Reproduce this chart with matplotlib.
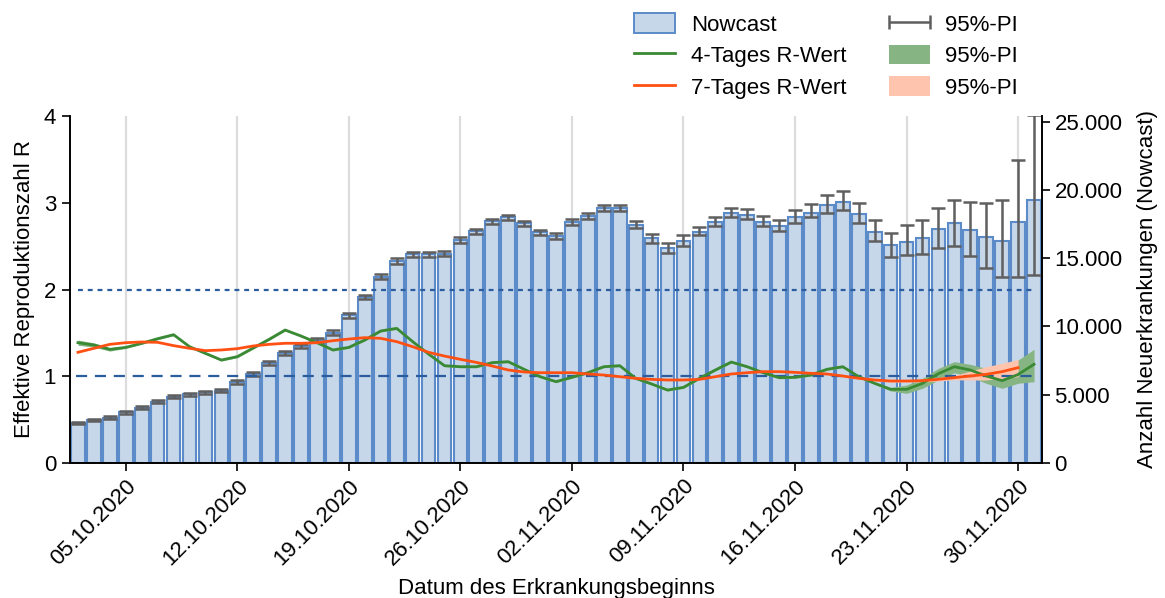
import numpy as np
import pandas as pd
import matplotlib
matplotlib.use("Agg")
import matplotlib.pyplot as plt
from matplotlib.patches import Patch
from matplotlib.lines import Line2D
from matplotlib.ticker import FuncFormatter
from matplotlib.legend_handler import HandlerErrorbar

plt.rcParams['font.family'] = ['Liberation Sans', 'DejaVu Sans']

# ---------------- data ----------------
start_date = "2020-10-02"
n_days = 61
dates = pd.date_range(start_date, periods=n_days, freq="D")

nowcast = [2950, 3150, 3320, 3710, 4050, 4470, 4860, 5050, 5180, 5300,
           5930, 6520, 7300, 8090, 8600, 9010, 9550, 10820, 12160, 13650,
           14800, 15290, 15290, 15340, 16340, 16970, 17700, 17990, 17560, 16900,
           16630, 17630, 18090, 18680, 18660, 17460, 16460, 15730, 16290, 16900,
           17630, 18290, 18190, 17660, 17340, 18050, 18340, 18930, 19150, 18220,
           16950, 15950, 16220, 16510, 17170, 17560, 17050, 16560, 16240, 17680,
           19300]

nowcast_upper = [3040, 3240, 3410, 3810, 4150, 4580, 4970, 5160, 5290, 5410,
                 6050, 6650, 7440, 8240, 8750, 9170, 9710, 10990, 12340, 13840,
                 14990, 15480, 15480, 15530, 16540, 17170, 17900, 18200, 17760, 17100,
                 16830, 17840, 18300, 18900, 18880, 17710, 16790, 16110, 16680, 17270,
                 18020, 18680, 18600, 18090, 17800, 18550, 18970, 19600, 19920, 19040,
                 17800, 16850, 17410, 17830, 18700, 19290, 19120, 19020, 19270, 22200,
                 25500]

nowcast_lower = [2860, 3060, 3230, 3610, 3950, 4360, 4750, 4940, 5070, 5190,
                 5810, 6390, 7160, 7940, 8450, 8850, 9390, 10650, 11980, 13460,
                 14610, 15100, 15100, 15150, 16140, 16770, 17500, 17780, 17360, 16700,
                 16430, 17420, 17880, 18460, 18440, 17210, 16130, 15350, 15900, 16680,
                 17360, 17990, 17850, 17340, 16970, 17560, 18040, 18310, 18500, 17560,
                 16240, 15120, 15240, 15320, 15730, 15920, 15170, 14320, 13660, 13660,
                 13740]

r4 = [1.387, 1.360, 1.310, 1.333, 1.380, 1.433, 1.479, 1.341, 1.264, 1.187,
      1.226, 1.326, 1.426, 1.533, 1.464, 1.387, 1.303, 1.333, 1.418, 1.522,
      1.552, 1.400, 1.256, 1.122, 1.110, 1.110, 1.157, 1.168, 1.080, 0.995,
      0.938, 0.988, 1.041, 1.110, 1.122, 0.976, 0.911, 0.841, 0.872, 0.976,
      1.072, 1.164, 1.110, 1.041, 0.984, 0.988, 1.014, 1.080, 1.110, 0.995,
      0.918, 0.850, 0.849, 0.918, 1.030, 1.110, 1.072, 1.003, 0.949, 1.020,
      1.138]

r4_lower = [1.357, 1.335, 1.290, 1.321, 1.368, 1.421, 1.467, 1.329, 1.252, 1.175,
            1.214, 1.314, 1.414, 1.521, 1.452, 1.375, 1.291, 1.321, 1.406, 1.510,
            1.540, 1.388, 1.244, 1.110, 1.098, 1.098, 1.145, 1.156, 1.068, 0.983,
            0.926, 0.976, 1.029, 1.098, 1.110, 0.964, 0.899, 0.829, 0.860, 0.964,
            1.060, 1.152, 1.098, 1.029, 0.972, 0.976, 1.002, 1.068, 1.098, 0.983,
            0.906, 0.830, 0.803, 0.861, 0.957, 1.041, 0.995, 0.918, 0.861, 0.919,
            0.937]

r4_upper = [1.417, 1.385, 1.330, 1.345, 1.392, 1.445, 1.491, 1.353, 1.276, 1.199,
            1.238, 1.338, 1.438, 1.545, 1.476, 1.399, 1.315, 1.345, 1.430, 1.534,
            1.564, 1.412, 1.268, 1.134, 1.122, 1.122, 1.169, 1.180, 1.092, 1.007,
            0.950, 1.000, 1.053, 1.122, 1.134, 0.988, 0.923, 0.853, 0.884, 0.988,
            1.084, 1.176, 1.122, 1.053, 0.996, 1.000, 1.026, 1.092, 1.122, 1.007,
            0.930, 0.870, 0.899, 0.976, 1.091, 1.168, 1.137, 1.091, 1.014, 1.187,
            1.311]

r7 = [1.276, 1.322, 1.368, 1.387, 1.395, 1.391, 1.353, 1.322, 1.295, 1.303,
      1.318, 1.349, 1.368, 1.380, 1.380, 1.387, 1.410, 1.429, 1.445, 1.437,
      1.399, 1.341, 1.276, 1.233, 1.195, 1.160, 1.118, 1.072, 1.049, 1.041,
      1.041, 1.041, 1.026, 1.014, 0.995, 0.976, 0.964, 0.957, 0.957, 0.964,
      0.995, 1.026, 1.041, 1.053, 1.053, 1.045, 1.034, 1.026, 1.003, 0.976,
      0.957, 0.945, 0.945, 0.949, 0.965, 0.984, 1.003, 1.022, 1.053, 1.099,
      np.nan]

r7_lower = [np.nan] * 44 + [
            1.045, 1.037, 1.026, 1.018, 0.995, 0.968,
            0.945, 0.933, 0.933, 0.934, 0.945, 0.959, 0.957, 0.957, 0.976, 0.995,
            np.nan]

r7_upper = [np.nan] * 44 + [
            1.061, 1.053, 1.042, 1.034, 1.011, 0.984,
            0.969, 0.957, 0.957, 0.964, 0.985, 1.009, 1.060, 1.110, 1.149, 1.195,
            np.nan]

tick_dates = ["05.10.2020", "12.10.2020", "19.10.2020", "26.10.2020",
              "02.11.2020", "09.11.2020", "16.11.2020", "23.11.2020", "30.11.2020"]

# ---------------- styling ----------------
FS = 16
bar_face = "#c6d7ea"
bar_edge = "#5b8bc8"
err_col = "#5f5f5f"
green = "#3a8a35"
orange = "#ff5014"
green_band = "#86b583"
orange_band = "#ffc4ae"
ref_col = "#2a5c9e"

fig = plt.figure(figsize=(11.65, 5.98), dpi=100)
ax = fig.add_axes([70 / 1165, 1 - 463 / 598, (1042 - 70) / 1165, (463 - 116) / 598])
ax2 = ax.twinx()

x = np.arange(n_days)
nc = np.array(nowcast, dtype=float)
yerr = np.vstack([nc - np.array(nowcast_lower), np.array(nowcast_upper) - nc])

# bars on the twin axis (drawn below the R axis)
ax.set_zorder(ax2.get_zorder() + 1)
ax.patch.set_visible(False)

tick_pos = [int((pd.to_datetime(t, format="%d.%m.%Y") - dates[0]).days) for t in tick_dates]
for tp in tick_pos:
    ax2.axvline(tp, color="#dcdcdc", lw=1.6, zorder=0)

ax2.bar(x, nc, width=0.86, color=bar_face, edgecolor=bar_edge, linewidth=1.5, zorder=2)
ax2.errorbar(x, nc, yerr=yerr, fmt="none", ecolor=err_col, elinewidth=1.8,
             capsize=5, capthick=1.8, zorder=3)

# R curves
ax.fill_between(x, r4_lower, r4_upper, color=green_band, lw=0, zorder=2)
ax.fill_between(x, r7_lower, r7_upper, color=orange_band, lw=0, zorder=2.1)
ax.plot([0, n_days - 1], [2, 2], ls=(0, (2.2, 2.2)), color=ref_col, lw=1.6, zorder=2.5)
ax.plot([-0.1, n_days - 1], [1, 1], ls=(0, (5, 3.5)), color=ref_col, lw=1.6, zorder=2.5)
ax.plot(x, r4, color=green, lw=2.0, zorder=3)
ax.plot(x, r7, color=orange, lw=2.0, zorder=3.1)

ax.set_xlim(-0.5, n_days - 0.5)
ax.set_ylim(0, 4)
ax.set_yticks([0, 1, 2, 3, 4])
ax2.set_ylim(0, 25420)
ax2.set_yticks([0, 5000, 10000, 15000, 20000, 25000])
ax2.yaxis.set_major_formatter(FuncFormatter(lambda v, p: f"{int(v):,}".replace(",", ".")))

ax.set_xticks(tick_pos)
ax.set_xticklabels(tick_dates, rotation=45, ha="right", rotation_mode="anchor")

for a in (ax, ax2):
    a.spines["top"].set_visible(False)
    for s in ("left", "right", "bottom"):
        a.spines[s].set_linewidth(1.2)
    a.tick_params(labelsize=FS, width=1.2, length=6)
ax.tick_params(axis="x", pad=3)
ax.tick_params(axis="y", pad=4)
ax2.tick_params(axis="y", pad=3)

ax.set_ylabel("Effektive Reproduktionszahl R", fontsize=FS, labelpad=6)
ax2.set_ylabel("Anzahl Neuerkrankungen (Nowcast)", fontsize=FS, labelpad=10)
ax.set_xlabel("Datum des Erkrankungsbeginns", fontsize=FS, labelpad=6)

# legend
eb_handle = ax.errorbar([np.nan], [np.nan], xerr=[[np.nan], [np.nan]], fmt="none",
                        ecolor=err_col, elinewidth=1.8, capsize=5, capthick=1.8)
handles = [Patch(facecolor=bar_face, edgecolor=bar_edge, linewidth=1.4),
           Line2D([], [], color=green, lw=2),
           Line2D([], [], color=orange, lw=2),
           eb_handle,
           Patch(facecolor=green_band, edgecolor="none"),
           Patch(facecolor=orange_band, edgecolor="none")]
labels = ["Nowcast", "4-Tages R-Wert", "7-Tages R-Wert", "95%-PI", "95%-PI", "95%-PI"]
fig.legend(handles, labels, ncol=2, frameon=False, fontsize=FS,
           loc="upper left", bbox_to_anchor=(621 / 1165, 1 - 0 / 598),
           handlelength=1.85, handleheight=0.95, labelspacing=0.42,
           columnspacing=1.9, handletextpad=0.7, borderaxespad=0.2,
           handler_map={eb_handle: HandlerErrorbar(xerr_size=0.92)})

fig.savefig("out.png", dpi=100)
